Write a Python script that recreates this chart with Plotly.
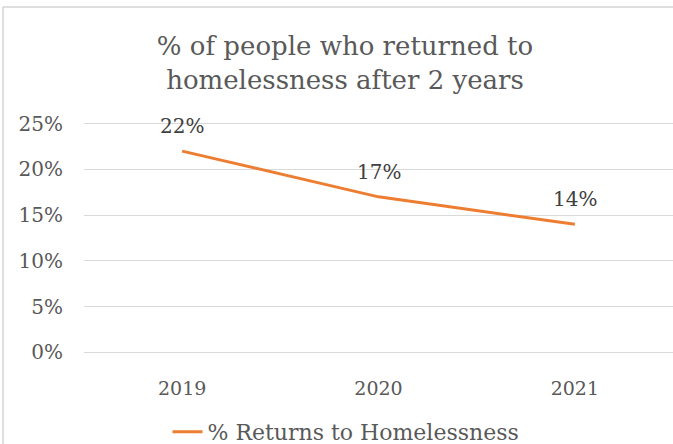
import plotly.graph_objects as go

years = ["2019", "2020", "2021"]
returns = [0.22, 0.17, 0.14]
labels = ["22%", "17%", "14%"]
series_name = "% Returns to Homelessness"
title_text = "% of people who returned to<br>homelessness after 2 years"

FONT = "DejaVu Serif"
GREY = "#595959"
ORANGE = "#ED7D31"

fig = go.Figure()
fig.add_trace(go.Scatter(
    x=years, y=returns, mode="lines", name=series_name,
    line=dict(color=ORANGE, width=3),
    cliponaxis=False,
))
for i, (v, lab) in enumerate(zip(returns, labels)):
    fig.add_annotation(x=i, y=v, xref="x", yref="y", text=lab, showarrow=False,
                       yanchor="middle", yshift=25,
                       font=dict(family=FONT, size=20, color="#404040"))

W, H = 673, 444
y0r, y1r = -0.004, 0.254
ppu = 228 / 0.25
L, R = 84, 0
T = round(124 - (y1r - 0.25) * ppu)
B = round(H - 352 - (0 - y0r) * ppu)
pw, ph = W - L - R, H - T - B

def px_x(px):
    return (px - L) / pw

def px_y(py):
    return (H - B - py) / ph

fig.add_shape(type="rect", xref="paper", yref="paper",
              x0=px_x(3), x1=px_x(700), y0=px_y(7), y1=px_y(460),
              line=dict(color="#BFBFBF", width=1), fillcolor="rgba(0,0,0,0)", layer="below")

fig.update_layout(
    width=W, height=H,
    margin=dict(l=L, r=R, t=T, b=B),
    paper_bgcolor="white", plot_bgcolor="white",
    font=dict(family=FONT, color=GREY),
    title=dict(text=title_text, x=345 / W, xanchor="center", xref="container",
               y=(H - 55) / H, yanchor="middle", yref="container",
               font=dict(family=FONT, size=26, color=GREY)),
    showlegend=True,
    legend=dict(orientation="h", x=346 / W, xanchor="center", xref="container",
                y=(H - 432) / H, yanchor="middle", yref="container",
                bgcolor="rgba(0,0,0,0)",
                font=dict(family=FONT, size=22, color=GREY), itemwidth=30),
    xaxis=dict(type="category", range=[-0.5, 2.5], showgrid=False, zeroline=False, showline=False,
               ticks="", tickfont=dict(family=FONT, size=19, color=GREY), ticklabelstandoff=19),
    yaxis=dict(range=[y0r, y1r], tickvals=[0, 0.05, 0.1, 0.15, 0.2, 0.25], tickformat=".0%",
               showgrid=True, gridcolor="#D9D9D9",
               gridwidth=1, zeroline=False, showline=False, ticks="",
               tickfont=dict(family=FONT, size=20, color=GREY), ticklabelstandoff=20),
)

fig.write_html("out.html")
